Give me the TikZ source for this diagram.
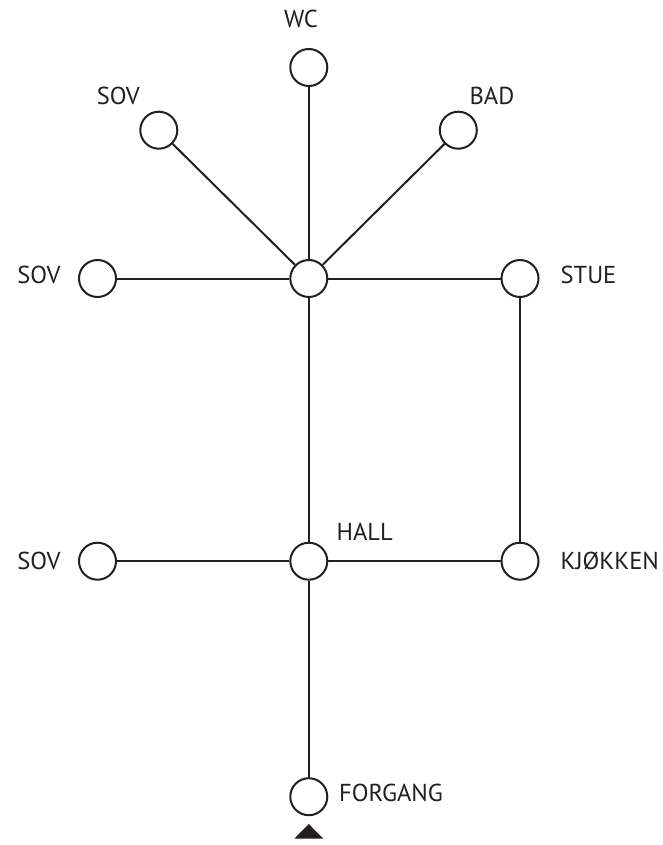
\documentclass[tikz,border=0pt]{standalone}
\usepackage{fontspec}
\setmainfont{PT Sans}
\definecolor{ink}{HTML}{231F20}
\begin{document}
\begin{tikzpicture}[x=1pt,y=-1pt,
  room/.style={circle,draw=ink,line width=2pt,minimum size=37pt,inner sep=0pt,fill=white},
  link/.style={draw=ink,line width=2pt},
  tag/.style={anchor=base,text=ink,inner sep=0pt,font=\fontsize{24.5}{29}\selectfont}]
\useasboundingbox (0,0) rectangle (662,845);

% rooms
\node[room] (hub)  at (308.8,278.5) {};
\node[room] (wc)   at (308.8,67.5) {};
\node[room] (sova) at (158.8,130.2) {};
\node[room] (bad)  at (458.3,130.2) {};
\node[room] (sovb) at (97.5,278.5) {};
\node[room] (stue) at (520,278.5) {};
\node[room] (hall) at (308.8,561.2) {};
\node[room] (sovc) at (97.5,561.2) {};
\node[room] (kjok) at (520,561.2) {};
\node[room] (forg) at (308.8,796.7) {};

% connections
\draw[link] (hub) -- (wc);
\draw[link] (hub) -- (sova);
\draw[link] (hub) -- (bad);
\draw[link] (hub) -- (sovb);
\draw[link] (hub) -- (stue);
\draw[link] (hub) -- (hall);
\draw[link] (stue) -- (kjok);
\draw[link] (hall) -- (sovc);
\draw[link] (hall) -- (kjok);
\draw[link] (hall) -- (forg);

% entrance marker
\fill[ink] (308.8,824) -- (323.3,838.7) -- (294.3,838.7) -- cycle;

% labels
\node[tag] (twc)   at (301,27.5)    {WC};
\node[tag] (tsova) at (118.3,104.5) {SOV};
\node[tag] (tbad)  at (492,104.5)   {BAD};
\node[tag] (tsovb) at (39,283)      {SOV};
\node[tag] (tstue) at (588.5,283)   {STUE};
\node[tag] (thall) at (364.7,540.2) {HALL};
\node[tag] (tsovc) at (39,569)      {SOV};
\node[tag] (tkjok) at (609.8,569)   {KJØKKEN};
\node[tag] (tforg) at (391,801)     {FORGANG};
\end{tikzpicture}
\end{document}
